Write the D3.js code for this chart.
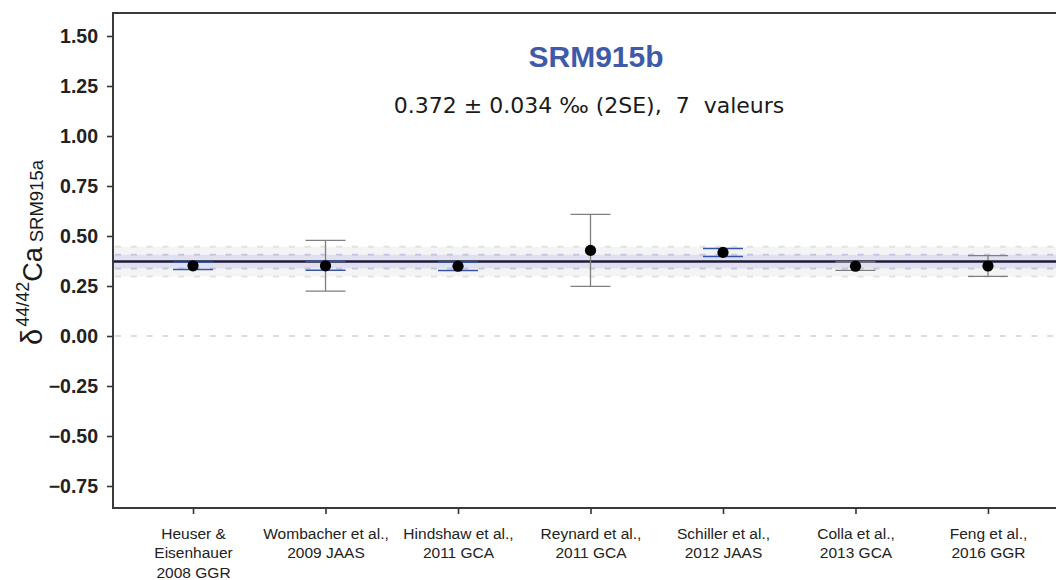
<!DOCTYPE html>
<html>
<head>
<meta charset="utf-8">
<script src="https://cdn.jsdelivr.net/npm/d3@7"></script>
<style>
  html, body { margin: 0; padding: 0; background: #ffffff; }
  svg { display: block; }
</style>
</head>
<body>
<script>
// ---------- data ----------
const categories = [
  ["Heuser &", "Eisenhauer", "2008 GGR"],
  ["Wombacher et al.,", "2009 JAAS"],
  ["Hindshaw et al.,", "2011 GCA"],
  ["Reynard et al.,", "2011 GCA"],
  ["Schiller et al.,", "2012 JAAS"],
  ["Colla et al.,", "2013 GCA"],
  ["Feng et al.,", "2016 GGR"]
];
const values   = [0.351, 0.351, 0.349, 0.428, 0.418, 0.349, 0.350];
const errGrey  = [null, 0.127, null, 0.180, null, 0.021, 0.052];   // outer error bars (grey)
const errBlue  = [0.018, 0.0225, 0.021, null, 0.020, null, null];   // inner error bars (blue)
const meanValue = 0.372;
const meanSE = 0.034;
const meanSD = 0.074;
const yTicks = [-0.75, -0.5, -0.25, 0, 0.25, 0.5, 0.75, 1.0, 1.25, 1.5];
const titleText = "SRM915b";
const subtitleText = "0.372 \u00B1 0.034 \u2030 (2SE),  7  valeurs";

// ---------- layout ----------
const W = 1056, H = 580;
const pLeft = 113, pRight = 1068, pTop = 13, pBottom = 508;

const svg = d3.select("body").append("svg")
  .attr("width", W).attr("height", H);

const y = d3.scaleLinear().domain([-0.86, 1.615]).range([pBottom, pTop]);
const x = d3.scalePoint().domain(d3.range(categories.length))
  .range([pLeft, pRight]).padding(0.604);

const plot = svg.append("g");

// bands
plot.append("rect")
  .attr("x", pLeft).attr("width", pRight - pLeft)
  .attr("y", y(meanValue + meanSD))
  .attr("height", y(meanValue - meanSD) - y(meanValue + meanSD))
  .attr("fill", "#f3f4f4");
plot.append("rect")
  .attr("x", pLeft).attr("width", pRight - pLeft)
  .attr("y", y(meanValue + meanSE))
  .attr("height", y(meanValue - meanSE) - y(meanValue + meanSE))
  .attr("fill", "#e0e0f0");

// dashed lines
const dashed = [
  {v: 0, c: "#dddddd"},
  {v: meanValue + meanSD, c: "#e2e2e2"},
  {v: meanValue - meanSD, c: "#e2e2e2"},
  {v: meanValue + meanSE, c: "#c6c6e2"},
  {v: meanValue - meanSE, c: "#c6c6e2"}
];
plot.selectAll("line.dash").data(dashed).enter().append("line")
  .attr("class", "dash")
  .attr("x1", pLeft + 2).attr("x2", pRight)
  .attr("y1", d => y(d.v)).attr("y2", d => y(d.v))
  .attr("stroke", d => d.c).attr("stroke-width", 2)
  .attr("stroke-dasharray", "6,9.8");

// mean line
plot.append("line")
  .attr("x1", pLeft).attr("x2", pRight)
  .attr("y1", y(meanValue)).attr("y2", y(meanValue))
  .attr("stroke", "#1c1c38").attr("stroke-width", 2.5);

// error bars
function drawErr(arr, color, width) {
  const g = plot.append("g").attr("stroke", color).attr("stroke-width", width).attr("fill", "none");
  arr.forEach((e, i) => {
    if (e == null) return;
    const cx = x(i), y1 = y(values[i] + e), y2 = y(values[i] - e), hw = 20;
    g.append("line").attr("x1", cx).attr("x2", cx).attr("y1", y1).attr("y2", y2);
    g.append("line").attr("x1", cx - hw).attr("x2", cx + hw).attr("y1", y1).attr("y2", y1);
    g.append("line").attr("x1", cx - hw).attr("x2", cx + hw).attr("y1", y2).attr("y2", y2);
  });
}
drawErr(errGrey, "#7f7f7f", 1.3);
drawErr(errBlue, "#3556a8", 1.5);

// points
plot.selectAll("circle.pt").data(values).enter().append("circle")
  .attr("class", "pt")
  .attr("cx", (d, i) => x(i)).attr("cy", d => y(d))
  .attr("r", 5.6).attr("fill", "#000");

// frame
svg.append("rect")
  .attr("x", pLeft).attr("y", pTop)
  .attr("width", pRight - pLeft).attr("height", pBottom - pTop)
  .attr("fill", "none").attr("stroke", "#3a3a3a").attr("stroke-width", 2);

// y axis
const yAxis = svg.append("g")
  .attr("transform", `translate(${pLeft},0)`)
  .call(d3.axisLeft(y).tickValues(yTicks).tickFormat(d3.format(".2f")).tickSize(6).tickPadding(9));
yAxis.select(".domain").remove();
yAxis.selectAll(".tick line").attr("stroke", "#333").attr("stroke-width", 1.6);
yAxis.selectAll(".tick text")
  .attr("font-family", "'Liberation Sans', Arial, sans-serif")
  .attr("font-weight", "bold").attr("font-size", 19.5).attr("fill", "#222");

// x axis
const xAxis = svg.append("g")
  .attr("transform", `translate(0,${pBottom})`)
  .call(d3.axisBottom(x).tickSize(6).tickFormat(""));
xAxis.select(".domain").remove();
xAxis.selectAll(".tick line").attr("stroke", "#333").attr("stroke-width", 1.6);
xAxis.selectAll(".tick text").remove();
xAxis.selectAll(".tick").each(function(d) {
  const t = d3.select(this).append("text")
    .attr("text-anchor", "middle")
    .attr("font-family", "'Liberation Sans', Arial, sans-serif")
    .attr("font-size", 15.5).attr("fill", "#222");
  categories[d].forEach((line, k) => {
    t.append("tspan").attr("x", 0).attr("y", 31 + k * 19.3).text(line);
  });
});

// title
svg.append("text")
  .attr("x", 596).attr("y", 67)
  .attr("text-anchor", "middle")
  .attr("font-family", "'Liberation Sans', Arial, sans-serif")
  .attr("font-weight", "bold").attr("font-size", 30)
  .attr("fill", "#3e5aa8")
  .text(titleText);

svg.append("text")
  .attr("x", 589).attr("y", 113)
  .attr("text-anchor", "middle")
  .attr("font-family", "'DejaVu Sans', sans-serif")
  .attr("font-size", 22).attr("fill", "#1a1a1a")
  .style("white-space", "pre")
  .text(subtitleText);

// y label
const yl = svg.append("text")
  .attr("transform", "translate(42,345) rotate(-90)")
  .attr("text-anchor", "start")
  .attr("font-family", "'Liberation Sans', Arial, sans-serif")
  .attr("fill", "#1a1a1a");
yl.append("tspan").attr("font-size", 29).text("\u03B4");
yl.append("tspan").attr("font-size", 18).attr("dx", 2).attr("dy", -13.4).text("44/42");
yl.append("tspan").attr("font-size", 27).attr("dy", 13.4).text("Ca");
yl.append("tspan").attr("font-size", 18.5).attr("dy", 1).attr("dx", 5).text("SRM915a");
</script>
</body>
</html>
